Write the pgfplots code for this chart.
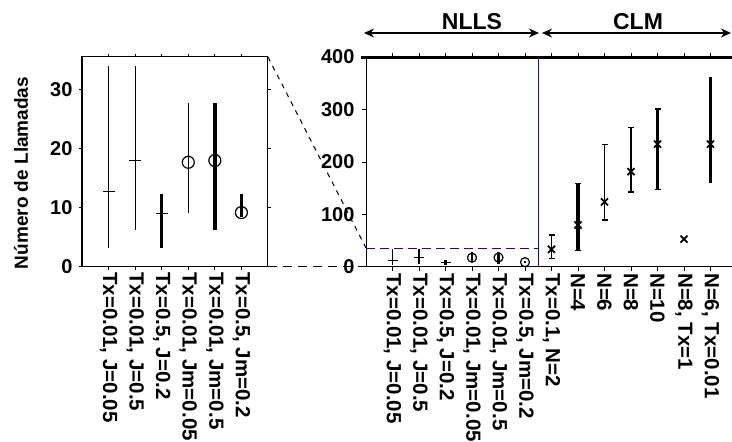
\documentclass[border=0pt]{standalone}
\usepackage{fontspec}
\setmainfont{Liberation Sans}
\usepackage{pgfplots}
\pgfplotsset{compat=1.18}
\usetikzlibrary{arrows.meta}

\pgfplotsset{
  base/.style={
    scale only axis, anchor=origin, clip=false,
    axis line style={line width=1pt},
    tick align=outside,
    major tick length=3pt,
    tick style={line width=1pt, black},
    tick label style={font=\fontsize{20}{20}\selectfont\bfseries},
    /pgf/number format/assume math mode=true,
    x tick label style={rotate=-90, anchor=west, inner sep=2pt, font=\fontsize{20.5}{20.5}\selectfont\bfseries},
    xtick pos=both, ytick pos=both,
  },
  pt/.style={black, only marks, line width=1.2pt,
    error bars/y dir=both, error bars/y explicit, error bars/error mark=none,
    error bars/error bar style={line width=#1}},
  ptc/.style={black, only marks, line width=1.2pt,
    error bars/y dir=both, error bars/y explicit, error bars/error mark=-,
    error bars/error mark options={rotate=90, line width=1.2pt, mark size=3pt},
    error bars/error bar style={line width=#1}},
}

\begin{document}
\begin{tikzpicture}
\begin{scope}
\clip (0pt,0pt) rectangle (732pt,442pt);

% ---------------- left (zoomed) axis ----------------
\begin{axis}[base, at={(82pt,175pt)}, width=186pt, height=210pt,
  xmin=0, xmax=7, ymin=0, ymax=35.5,
  xtick={1,...,6},
  xticklabels={{Tx=0.01, J=0.05},{Tx=0.01, J=0.5},{Tx=0.5, J=0.2},{Tx=0.01, Jm=0.05},{Tx=0.01, Jm=0.5},{Tx=0.5, Jm=0.2}},
  ytick={0,10,20,30},
  y tick label style={xshift=-3pt},
]
\addplot[pt=1.2pt, mark=-, mark size=6pt] coordinates {(1,12.8) += (0,21.2) -= (0,9.6)};
\addplot[pt=1.2pt, mark=-, mark size=6pt] coordinates {(2,18.0) += (0,16.0) -= (0,11.7)};
\addplot[pt=3.5pt, mark=-, mark size=6pt] coordinates {(3,9.1) += (0,3.3) -= (0,5.9)};
\addplot[pt=1.2pt, mark=o, mark size=6pt] coordinates {(4,17.7) += (0,10.0) -= (0,8.6)};
\addplot[pt=3.5pt, mark=o, mark size=6pt] coordinates {(5,18.0) += (0,9.7) -= (0,11.8)};
\addplot[pt=2.5pt, mark=o, mark size=6pt] coordinates {(6,9.2) += (0,3.1) -= (0,0.8)};
\draw[line width=2.5pt] (rel axis cs:0,0) -- (rel axis cs:0,1);
\end{axis}

% ---------------- right (full) axis ----------------
\begin{axis}[base, at={(366pt,175pt)}, width=371pt, height=210pt,
  xmin=0, xmax=14, ymin=0, ymax=400,
  xtick={1,...,13},
  xticklabels={{Tx=0.01, J=0.05},{Tx=0.01, J=0.5},{Tx=0.5, J=0.2},{Tx=0.01, Jm=0.05},{Tx=0.01, Jm=0.5},{Tx=0.5, Jm=0.2},{Tx=0.1, N=2},{N=4},{N=6},{N=8},{N=10},{N=8, Tx=1},{N=6, Tx=0.01}},
  ytick={0,100,...,400},
  y tick label style={xshift=-4pt},
  major tick length=4pt,
]
\draw[blue, line width=1pt] (axis cs:6.5,0) -- (axis cs:6.5,400);
\draw[blue, line width=1pt, dash pattern=on 9pt off 5pt] (axis cs:0,35.5) -- (axis cs:6.5,35.5);
\addplot[pt=1.8pt, mark=-, mark size=5pt] coordinates {(1,12.8) += (0,21.2) -= (0,9.6)};
\addplot[pt=1.2pt, mark=-, mark size=5pt] coordinates {(2,18.0) += (0,16.0) -= (0,11.7)};
\addplot[pt=3.5pt, mark=-, mark size=5pt] coordinates {(3,9.1) += (0,3.3) -= (0,5.9)};
\addplot[pt=1.2pt, mark=o, mark size=4.5pt] coordinates {(4,17.7) += (0,10.0) -= (0,8.6)};
\addplot[pt=3pt, mark=o, mark size=4.5pt] coordinates {(5,18.0) += (0,9.7) -= (0,11.8)};
\addplot[pt=2.5pt, mark=o, mark size=4.5pt] coordinates {(6,9.2) += (0,3.1) -= (0,0.8)};
\addplot[ptc=1.2pt, mark=x, mark size=5pt, mark options={line width=1.8pt}] coordinates {(7,33.7) += (0,27.3) -= (0,17.2)};
\addplot[ptc=3.5pt, mark=x, mark size=5pt, mark options={line width=1.8pt}] coordinates {(8,80) += (0,79) -= (0,48)};
\addplot[ptc=1.2pt, mark=x, mark size=5pt, mark options={line width=1.8pt}] coordinates {(9,124) += (0,110) -= (0,34.5)};
\addplot[ptc=2.2pt, mark=x, mark size=5pt, mark options={line width=1.8pt}] coordinates {(10,181.6) += (0,84.4) -= (0,38.6)};
\addplot[ptc=3.5pt, mark=x, mark size=5pt, mark options={line width=1.8pt}] coordinates {(11,234) += (0,67) -= (0,87)};
\addplot[black, only marks, mark=x, mark size=5pt, mark options={line width=1.8pt}] coordinates {(12,53)};
\addplot[pt=3.5pt, mark=x, mark size=5pt, mark options={line width=1.8pt}] coordinates {(13,234) += (0,128) -= (0,73.5)};
\draw[line width=3pt] (axis cs:-0.2,400) -- (axis cs:14,400);
\end{axis}

% connectors
\draw[line width=1pt, dash pattern=on 5pt off 5pt] (268pt,385pt) -- (366pt,194pt);
\draw[line width=1pt, dash pattern=on 9pt off 6pt] (268pt,175pt) -- (366pt,175pt);

% group arrows
\draw[{Stealth[length=10pt,width=9pt]}-{Stealth[length=10pt,width=9pt]}, line width=1.3pt] (364pt,409pt) -- (539pt,409pt);
\draw[{Stealth[length=10pt,width=9pt]}-{Stealth[length=10pt,width=9pt]}, line width=1.3pt] (542pt,409pt) -- (731pt,409pt);
\node[font=\fontsize{23}{23}\selectfont\bfseries] at (472pt,420pt) {NLLS};
\node[font=\fontsize{23}{23}\selectfont\bfseries] at (638pt,420pt) {CLM};

% y label
\node[rotate=90, font=\fontsize{19}{19}\selectfont\bfseries] at (21pt,269pt) {Número de Llamadas};
\end{scope}
\pgfresetboundingbox
\useasboundingbox (0pt,0pt) rectangle (732pt,442pt);
\end{tikzpicture}
\end{document}
